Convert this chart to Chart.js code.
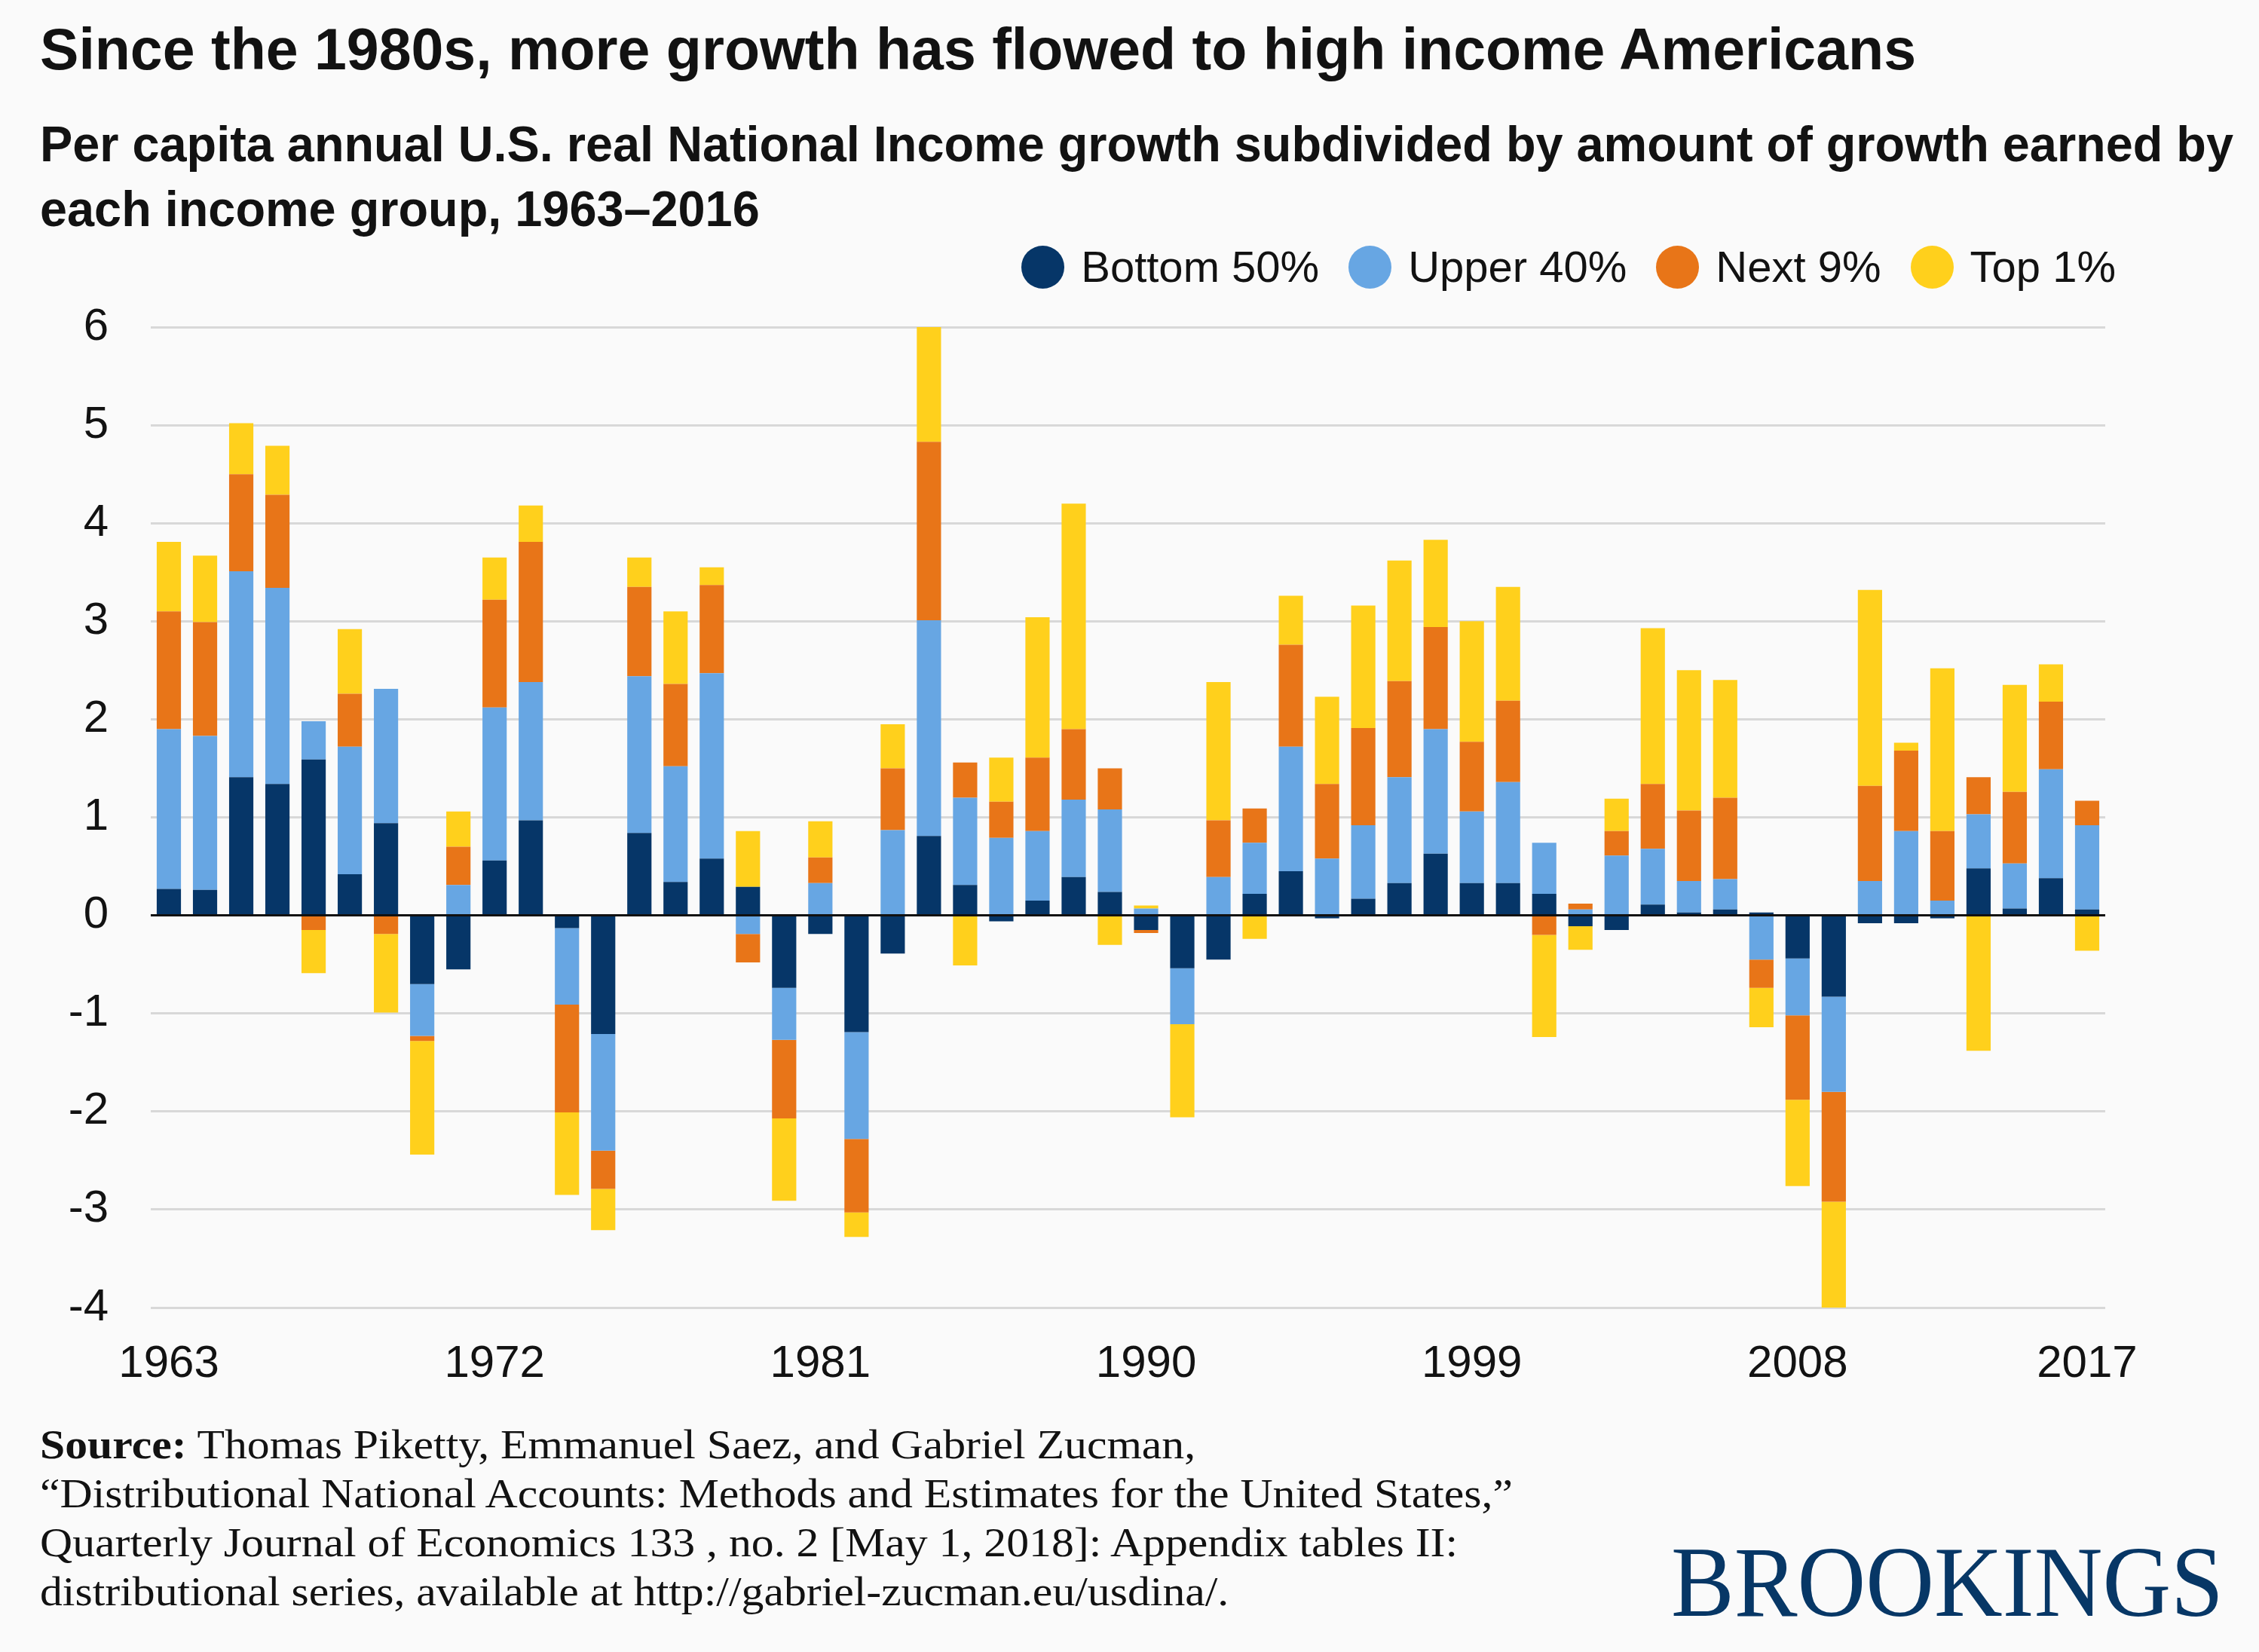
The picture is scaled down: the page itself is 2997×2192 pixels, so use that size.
<!DOCTYPE html>
<html>
<head>
<meta charset="utf-8">
<script src="https://cdn.jsdelivr.net/npm/chart.js@4.4.1/dist/chart.umd.min.js"></script>
<style>
html,body{margin:0;padding:0;background:#fafafa;}
#page{position:relative;width:2997px;height:2192px;overflow:hidden;background:#fafafa;font-family:"Liberation Sans",Arial,sans-serif;color:#121212;}
#chartBox{position:absolute;left:0;top:0;width:2997px;height:2192px;}
.txt{position:absolute;white-space:nowrap;line-height:1;transform-origin:0 0;}
#title{left:53px;top:27px;font-size:77px;font-weight:bold;}
.sub{left:53px;font-size:67px;font-weight:bold;}
#legend{position:absolute;top:325px;right:190px;display:flex;align-items:center;}
.lg{display:flex;align-items:center;margin-left:39px;font-size:58px;line-height:1;}
.dot{width:57px;height:57px;border-radius:50%;margin-right:22px;}
.foot{left:53px;font-family:"Liberation Serif",serif;font-size:54px;}
#logo{left:2217px;top:2032px;font-family:"Liberation Serif",serif;font-size:134px;color:#073766;}
</style>
</head>
<body>
<div id="page">
  <div id="chartBox"><canvas id="chart" width="2997" height="2192"></canvas></div>
  <div class="txt" id="title">Since the 1980s, more growth has flowed to high income Americans</div>
  <div class="txt sub" id="sub1" style="top:157px">Per capita annual U.S. real National Income growth subdivided by amount of growth earned by</div>
  <div class="txt sub" id="sub2" style="top:243px">each income group, 1963–2016</div>
  <div id="legend"></div>
  <div class="txt foot" id="f1" style="top:1890px"><b>Source:</b> Thomas Piketty, Emmanuel Saez, and Gabriel Zucman,</div>
  <div class="txt foot" id="f2" style="top:1955px">“Distributional National Accounts: Methods and Estimates for the United States,”</div>
  <div class="txt foot" id="f3" style="top:2020px">Quarterly Journal of Economics 133 , no. 2 [May 1, 2018]: Appendix tables II:</div>
  <div class="txt foot" id="f4" style="top:2085px">distributional series, available at http://gabriel-zucman.eu/usdina/.</div>
  <div class="txt" id="logo">BROOKINGS</div>
</div>
<script>
// years on the x axis
const years = [1963,1964,1965,1966,1967,1968,1969,1970,1971,1972,
1973,1974,1975,1976,1977,1978,1979,1980,1981,1982,
1983,1984,1985,1986,1987,1988,1989,1990,1991,1992,
1993,1994,1995,1996,1997,1998,1999,2000,2001,2002,
2003,2004,2005,2006,2007,2008,2009,2010,2011,2012,
2013,2014,2015,2016];

// tick text shown under the bar of a given year
const xTickLabels = {1963:"1963",1972:"1972",1981:"1981",1990:"1990",1999:"1999",2008:"2008",2016:"2017"};

const groups = ["Bottom 50%","Upper 40%","Next 9%","Top 1%"];
const colors = ["#063668","#67a6e3","#e87518","#ffd01c"];

// percentage points of growth earned by each group
const bottom50 = [0.27,0.26,1.41,1.34,1.59,0.42,0.94,-0.70,-0.55,0.56,
0.97,-0.13,-1.21,0.84,0.34,0.58,0.29,-0.74,-0.19,-1.19,
-0.39,0.81,0.31,-0.06,0.15,0.39,0.24,-0.15,-0.54,-0.45,
0.22,0.45,-0.03,0.17,0.33,0.63,0.33,0.33,0.22,-0.11,
-0.15,0.11,0.03,0.06,0.03,-0.44,-0.83,-0.08,-0.08,-0.03,
0.48,0.07,0.38,0.06];
const upper40 = [1.63,1.57,2.10,2.00,0.39,1.30,1.37,-0.53,0.31,1.56,
1.41,-0.78,-1.19,1.60,1.18,1.89,-0.19,-0.53,0.33,-1.09,
0.87,2.20,0.89,0.79,0.71,0.79,0.84,0.07,-0.57,0.39,
0.52,1.27,0.58,0.75,1.08,1.27,0.73,1.03,0.52,0.06,
0.61,0.57,0.32,0.31,-0.45,-0.58,-0.97,0.35,0.86,0.15,
0.55,0.46,1.11,0.86];
const next9 = [1.20,1.16,0.99,0.95,-0.15,0.54,-0.19,-0.05,0.39,1.10,
1.43,-1.10,-0.39,0.91,0.84,0.90,-0.29,-0.80,0.26,-0.75,
0.63,1.82,0.36,0.37,0.75,0.72,0.42,-0.03,0.01,0.58,
0.35,1.04,0.76,0.99,0.98,1.04,0.71,0.83,-0.20,0.06,
0.25,0.66,0.72,0.83,-0.29,-0.86,-1.12,0.97,0.82,0.71,
0.38,0.73,0.69,0.25];
const top1 = [0.71,0.68,0.52,0.50,-0.44,0.66,-0.80,-1.16,0.36,0.43,
0.37,-0.84,-0.42,0.30,0.74,0.18,0.57,-0.84,0.37,-0.25,
0.45,1.17,-0.51,0.45,1.43,2.30,-0.30,0.03,-0.95,1.41,
-0.24,0.50,0.89,1.25,1.23,0.89,1.23,1.16,-1.04,-0.24,
0.33,1.59,1.43,1.20,-0.40,-0.88,-1.08,2.00,0.08,1.66,
-1.38,1.09,0.38,-0.36];

const series = [bottom50, upper40, next9, top1];

// legend
const legend = document.getElementById("legend");
groups.forEach((g,i)=>{
  const item = document.createElement("div");
  item.className = "lg";
  item.innerHTML = '<span class="dot" style="background:'+colors[i]+'"></span><span>'+g+'</span>';
  legend.appendChild(item);
});

// squeeze text to the widths of the original condensed fonts
function fit(id, target){
  const el = document.getElementById(id);
  const k = target / el.getBoundingClientRect().width;
  el.style.transform = "scaleX("+k+")";
  return k;
}
fit("title", 2489);
const ks = fit("sub1", 2910);
document.getElementById("sub2").style.transform = "scaleX("+ks+")";
const kf = fit("f2", 1954);
["f1","f3","f4"].forEach(id=>document.getElementById(id).style.transform="scaleX("+kf+")");
fit("logo", 733);

const zeroLine = {
  id:"zeroLine",
  afterDatasetsDraw(chart){
    const y = chart.scales.y.getPixelForValue(0);
    const a = chart.chartArea;
    const ctx = chart.ctx;
    ctx.save();
    ctx.strokeStyle = "#111";
    ctx.lineWidth = 3;
    ctx.beginPath();
    ctx.moveTo(a.left, y);
    ctx.lineTo(a.right, y);
    ctx.stroke();
    ctx.restore();
  }
};

new Chart(
document.getElementById("chart"),
{
type:"bar",
data:{
labels:years,
datasets:groups.map((g,i)=>({
label:g,
data:series[i],
backgroundColor:colors[i],
borderWidth:0,
categoryPercentage:1,
barPercentage:0.67
}))
},
options:{
responsive:false,
animation:false,
layout:{padding:{left:0,top:434,right:204,bottom:337}},
plugins:{legend:{display:false},tooltip:{enabled:false}},
scales:{
x:{
stacked:true,
grid:{display:false,drawTicks:false},
border:{display:false},
ticks:{autoSkip:false,maxRotation:0,minRotation:0,padding:39,color:"#121212",
font:{family:"Liberation Sans",size:60},
callback:(v,i)=>xTickLabels[years[i]] || ""},
afterFit:s=>{s.height=120;}
},
y:{
stacked:true,
min:-4,
max:6,
ticks:{stepSize:1,padding:56,color:"#121212",font:{family:"Liberation Sans",size:60}},
grid:{color:"#d8d8d8",lineWidth:3,drawTicks:false},
border:{display:false},
afterFit:s=>{s.width=200;}
}
}
},
plugins:[zeroLine]
});
</script>
</body>
</html>
